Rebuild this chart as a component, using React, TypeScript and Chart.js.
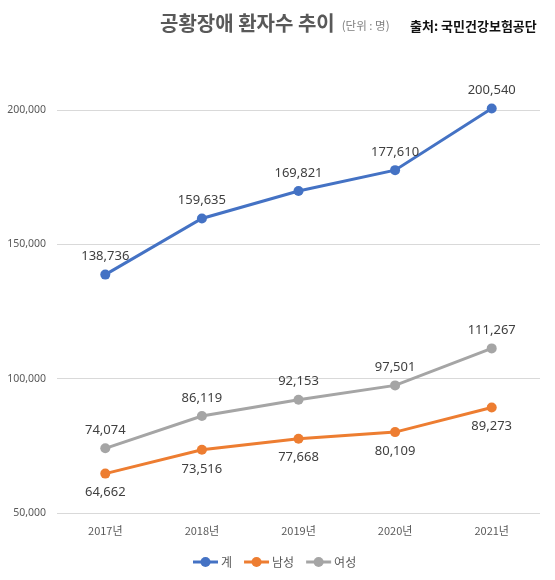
import React, { useEffect, useRef } from "react";
import { Chart, registerables } from "chart.js";

Chart.register(...registerables);

const categories = ["2017년", "2018년", "2019년", "2020년", "2021년"];
const totalValues = [138736, 159635, 169821, 177610, 200540];
const maleValues = [64662, 73516, 77668, 80109, 89273];
const femaleValues = [74074, 86119, 92153, 97501, 111267];
const seriesNames = ["계", "남성", "여성"];
const seriesColors = ["#4472C4", "#ED7D31", "#A5A5A5"];
const labelSides = ["above", "below", "above"];

const titleText = "공황장애 환자수 추이";
const unitText = "(단위 : 명)";
const sourceText = "출처: 국민건강보험공단";

const FONT = '"Noto Sans", "Noto Sans CJK KR", sans-serif';
const KFONT = '"Noto Sans CJK KR", "Noto Sans", sans-serif';

const fmt = (v: number) => v.toLocaleString("en-US");

const dataLabelPlugin = {
  id: "dataLabels",
  afterDatasetsDraw(chart: any) {
    const ctx = chart.ctx;
    ctx.save();
    ctx.font = `13px ${FONT}`;
    ctx.fillStyle = "#404040";
    ctx.textAlign = "center";
    ctx.textBaseline = "middle";
    chart.data.datasets.forEach((ds: any, i: number) => {
      const meta = chart.getDatasetMeta(i);
      meta.data.forEach((pt: any, j: number) => {
        const dy = labelSides[i] === "above" ? -18 : 19;
        ctx.fillText(fmt(ds.data[j]), pt.x, pt.y + dy);
      });
    });
    ctx.restore();
  },
};

const decorPlugin = {
  id: "decor",
  afterDraw(chart: any) {
    const ctx = chart.ctx;
    ctx.save();
    // Title
    ctx.textBaseline = "middle";
    ctx.textAlign = "left";
    ctx.font = `bold 20px ${KFONT}`;
    ctx.fillStyle = "#595959";
    ctx.fillText(titleText, 160, 23);
    const tw = ctx.measureText(titleText).width;
    ctx.font = `11.5px ${KFONT}`;
    ctx.fillStyle = "#7f7f7f";
    ctx.fillText(unitText, 160 + tw + 7, 26);
    ctx.font = `bold 13px ${KFONT}`;
    ctx.fillStyle = "#111111";
    ctx.fillText(sourceText, 410, 26);

    // Legend
    let x = 193;
    const y = 562;
    ctx.font = `12px ${KFONT}`;
    seriesNames.forEach((name, i) => {
      const len = 25;
      ctx.strokeStyle = seriesColors[i];
      ctx.lineWidth = 3;
      ctx.beginPath();
      ctx.moveTo(x, y);
      ctx.lineTo(x + len, y);
      ctx.stroke();
      ctx.fillStyle = seriesColors[i];
      ctx.beginPath();
      ctx.arc(x + len / 2, y, 5, 0, Math.PI * 2);
      ctx.fill();
      ctx.fillStyle = "#595959";
      ctx.fillText(name, x + len + 3, y);
      x += len + 3 + ctx.measureText(name).width + 12;
    });
    ctx.restore();
  },
};

export default function App() {
  const ref = useRef<HTMLCanvasElement>(null);
  useEffect(() => {
    const values = [totalValues, maleValues, femaleValues];
    const chart = new Chart(ref.current!, {
      type: "line",
      data: {
        labels: categories,
        datasets: seriesNames.map((n, i) => ({
          label: n,
          data: values[i],
          borderColor: seriesColors[i],
          backgroundColor: seriesColors[i],
          borderWidth: 3,
          pointRadius: 5,
          pointBackgroundColor: seriesColors[i],
          pointBorderColor: seriesColors[i],
          pointBorderWidth: 0,
          tension: 0,
          clip: false as any,
        })),
      },
      options: {
        animation: false,
        responsive: false,
        layout: { padding: { top: 110, right: 15, bottom: 37, left: 0 } },
        plugins: {
          legend: { display: false },
          title: { display: false },
          tooltip: { enabled: false },
        },
        scales: {
          x: {
            offset: true,
            grid: { display: false, drawTicks: false },
            border: { display: false },
            ticks: { padding: 11, color: "#595959", font: { size: 11, family: KFONT } },
            afterFit: (s: any) => { s.height = 30; },
          },
          y: {
            min: 50000,
            max: 200000,
            ticks: {
              stepSize: 50000,
              padding: 11,
              color: "#595959",
              font: { size: 10.5, family: FONT },
              callback: (v: any) => fmt(Number(v)),
            },
            grid: { color: "#d9d9d9", lineWidth: 1, drawTicks: false },
            border: { display: false },
            afterFit: (s: any) => { s.width = 57; },
          },
        },
      },
      plugins: [dataLabelPlugin, decorPlugin],
    });
    return () => chart.destroy();
  }, []);
  return (
    <div style={{ position: "fixed", left: 0, top: 0, width: 555, height: 580, background: "#fff" }}>
      <canvas ref={ref} width={555} height={580} style={{ display: "block" }} />
    </div>
  );
}
